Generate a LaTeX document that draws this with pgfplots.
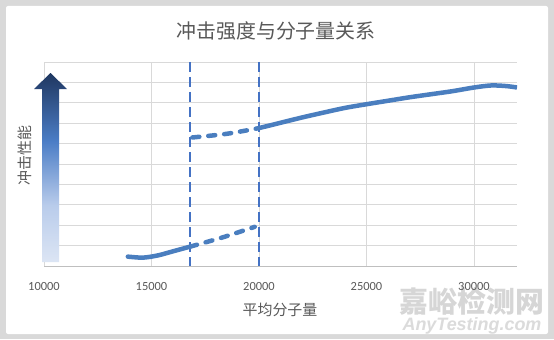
\documentclass[border=0pt]{standalone}
\usepackage{fontspec}
\usepackage{pgfplots}
\pgfplotsset{compat=1.18}
\setmainfont{Carlito}
\newfontfamily\cjk{Noto Sans CJK SC}
\newfontfamily\wmfont{Liberation Sans}
\definecolor{txt}{HTML}{595959}
\definecolor{gridc}{HTML}{D9D9D9}
\definecolor{linec}{HTML}{4A7EBF}
\definecolor{vlinec}{HTML}{4472C4}
\definecolor{framec}{HTML}{D9D9D9}
\definecolor{axisc}{HTML}{BFBFBF}
\definecolor{arrowbot}{HTML}{DCE5F4}
\definecolor{arrowlow}{HTML}{B9CCEB}
\definecolor{arrowmid}{HTML}{4B7DC6}
\definecolor{arrowtop}{HTML}{1F3760}
\pgfdeclareverticalshading{arrowgrad}{100bp}{color(0bp)=(arrowbot); color(25bp)=(arrowbot); color(40bp)=(arrowlow); color(57bp)=(arrowmid); color(75bp)=(arrowtop); color(100bp)=(arrowtop)}
\begin{document}
\begin{tikzpicture}[x=1bp,y=1bp]
\fill[framec] (0,0) rectangle (554,339);
\fill[white, rounded corners=2bp] (6,5) rectangle (548,333);
\useasboundingbox (0,0) rectangle (554,339);
% watermark
\node[text=black!16, font=\cjk\bfseries\fontsize{29}{29}\selectfont] at (472,38) {嘉峪检测网};
\node[text=black!14, font=\wmfont\bfseries\itshape\fontsize{18}{18}\selectfont] at (472,13) {AnyTesting.com};
\begin{axis}[
  at={(44bp,73bp)}, anchor=south west,
  width=473bp, height=204bp, scale only axis,
  xmin=10000, xmax=32000, ymin=0, ymax=10,
  axis line style={draw=none},
  xtick={10000,15000,20000,25000,30000},
  scaled x ticks=false,
  ytick={0,1,...,10}, yticklabels={},
  xmajorgrids, ymajorgrids,
  grid style={gridc, line width=0.8bp},
  major tick length=0pt,
  /pgf/number format/1000 sep={},
  /pgf/number format/assume math mode=true,
  xticklabel style={font=\fontsize{12.5}{14}\selectfont, text=txt, anchor=center, yshift=-20bp},
]
\draw[axisc, line width=1bp] (axis cs:10000,0) -- (axis cs:32000,0);
% vertical dashed lines
\addplot[vlinec, line width=1.5bp, dash pattern=on 10bp off 5bp] coordinates {(16800,10) (16800,0)};
\addplot[vlinec, line width=1.5bp, dash pattern=on 10bp off 5bp] coordinates {(20000,10) (20000,0)};
% lower curve
\addplot[linec, line width=4.5bp, smooth, line cap=round] coordinates {
 (13900,0.46) (14600,0.41) (15300,0.52) (16000,0.72) (16800,0.95)};
\addplot[linec, line width=4.5bp, smooth, line cap=round, dash pattern=on 7bp off 9bp] coordinates {
 (16800,0.95) (18300,1.40) (19800,1.92)};
% upper curve
\addplot[linec, line width=4.5bp, smooth, line cap=round, dash pattern=on 7bp off 9bp] coordinates {
 (16900,6.30) (18500,6.48) (20000,6.76)};
\addplot[linec, line width=4.5bp, smooth] coordinates {
 (20000,6.76) (21000,7.02) (22000,7.28) (23000,7.52) (24000,7.75) (25000,7.93)
 (26000,8.10) (27000,8.27) (28000,8.42) (29000,8.57) (30000,8.75) (30800,8.85)
 (31500,8.82) (32000,8.75)};
\end{axis}
% gradient arrow
\shade[shading=arrowgrad] (42,77) -- (59,77) -- (59,250) -- (67,250) -- (50.5,266) -- (34,250) -- (42,250) -- cycle;
% texts
\node[text=txt, font=\cjk\fontsize{20}{20}\selectfont] at (276,308) {冲击强度与分子量关系};
\node[text=txt, font=\cjk\fontsize{15}{15}\selectfont] at (280,29) {平均分子量};
\node[text=txt, font=\cjk\fontsize{15}{15}\selectfont, rotate=90] at (25,183.5) {冲击性能};
\end{tikzpicture}
\end{document}
